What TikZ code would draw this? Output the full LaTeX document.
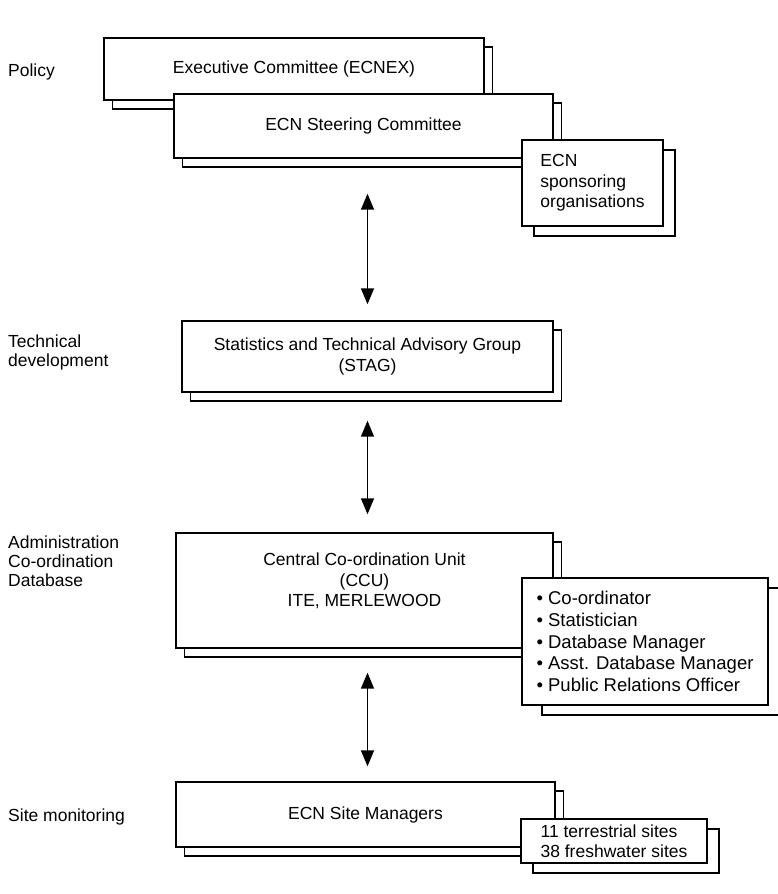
\documentclass[tikz,border=0pt]{standalone}
\usepackage{fontspec}
\setmainfont{Liberation Sans}
\usetikzlibrary{shadows,arrows.meta,positioning}
\newcommand{\boxlinewidth}{1.4pt}
\newcommand{\boxfont}{\fontsize{17.5}{20.5}\selectfont}
\newcommand{\listfont}{\fontsize{18.5}{21.7}\selectfont}

\tikzset{
  orgbox/.style={draw=black, fill=white, line width=\boxlinewidth, rectangle, inner sep=0pt, align=center, font=\boxfont,
    copy shadow={shadow xshift=8.5pt, shadow yshift=-9pt, draw=black, fill=white, line width=\boxlinewidth}},
  sidebox/.style={draw=black, fill=white, line width=\boxlinewidth, rectangle, inner sep=0pt, align=left, font=\boxfont,
    copy shadow={shadow xshift=#1, shadow yshift=-10pt, draw=black, fill=white, line width=\boxlinewidth}},
  sidebox/.default=12pt,
  levellabel/.style={anchor=west, align=left, inner sep=0pt, font=\fontsize{17.5}{19}\selectfont},
  link/.style={{Triangle[width=13pt,length=16pt]}-{Triangle[width=13pt,length=16pt]}, line width=1.5pt}
}

\begin{document}
\begin{tikzpicture}[x=1pt,y=-1pt]
\useasboundingbox (0,0) rectangle (777,894);

% Level labels
\node (policy) [levellabel] at (8,72) {Policy};
\node (techdev) [levellabel] at (8,352) {Technical\\development};
\node (admin) [levellabel] at (8,561) {Administration\\Co-ordination\\Database};
\node (sitemon) [levellabel] at (8,817) {Site monitoring};

% Policy boxes
\node (ecnex) [orgbox, minimum width=380pt, minimum height=62pt] at (294,69) {Executive Committee (ECNEX)};
\node (steering) [orgbox, minimum width=379pt, minimum height=64pt] at (363.5,126) {ECN Steering Committee};
\node (sponsors) [sidebox, minimum width=141pt, minimum height=86pt] at (592.5,183) {ECN\\sponsoring\\organisations};

% Technical box
\node (stag) [orgbox, minimum width=371pt, minimum height=71pt] at (367.5,356.5) {Statistics and Technical Advisory Group\\(STAG)};

% Co-ordination unit and its staff
\node (ccu) [orgbox, minimum width=377pt, minimum height=115pt] at (364.5,590.5) {};
\node (ccutext) [below=20.5pt of ccu.north, align=center, inner sep=0pt, font=\boxfont] {Central Co-ordination Unit\\(CCU)\\ITE, MERLEWOOD};
\node (staff) [sidebox=20pt, minimum width=246pt, minimum height=127pt, font=\listfont] at (645,641.5) {• Co-ordinator\\• Statistician\\• Database Manager\\• Asst. Database Manager\\• Public Relations Officer};

% Site level
\node (sitemgr) [orgbox, minimum width=379pt, minimum height=65pt] at (365.5,814.5) {ECN Site Managers};
\node (sites) [sidebox, minimum width=186pt, minimum height=44pt] at (614,841) {11 terrestrial sites\\38 freshwater sites};

% Links between levels
\draw[link, shorten <=35pt, shorten >=16pt] (stag.north |- steering.south) -- (stag.north);
\draw[link, shorten <=28pt, shorten >=18pt] (stag.south) -- (stag.south |- ccu.north);
\draw[link, shorten <=24pt, shorten >=15pt] (stag.south |- ccu.south) -- (stag.south |- sitemgr.north);

\end{tikzpicture}
\end{document}
